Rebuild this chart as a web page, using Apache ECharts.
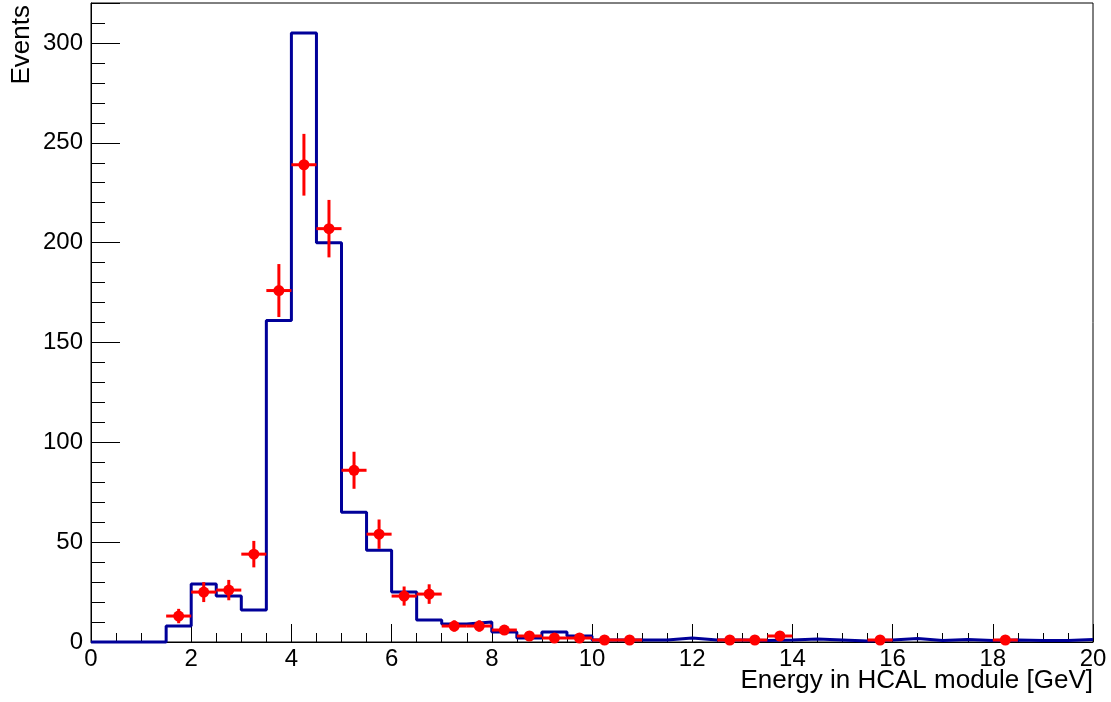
<!DOCTYPE html>
<html>
<head>
<meta charset="utf-8">
<title>Energy in HCAL module</title>
<script src="https://cdn.jsdelivr.net/npm/echarts@6/dist/echarts.min.js"></script>
<style>
  html, body { margin: 0; padding: 0; background: #fff; }
  #chart { width: 1111px; height: 702px; }
</style>
</head>
<body>
<div id="chart"></div>
<script>
// simulation histogram: 40 bins of 0.5 GeV, 0 .. 20 GeV
var binWidth = 0.5
var mcCounts = [
  0, 0, 0, 8, 29, 23, 16, 161, 305, 200,
  65, 46, 25, 11, 9, 10, 5, 2, 5, 3,
  1, 1, 1, 2, 1, 1, 0.7, 1, 1.5, 1,
  0.5, 1, 1.7, 0.8, 1.2, 0.7, 1, 0.8, 0.8, 1.2
]
// measured events (bin centres, counts), empty bins left out
var dataCenters = [1.75, 2.25, 2.75, 3.25, 3.75, 4.25, 4.75, 5.25, 5.75, 6.25, 6.75, 7.25,
  7.75, 8.25, 8.75, 9.25, 9.75, 10.25, 10.75, 12.75, 13.25, 13.75, 15.75, 18.25]
var dataCounts = [13, 25, 26, 44, 176, 239, 207, 86, 54, 23, 24, 8,
  8, 6, 3, 2, 2, 1, 1, 1, 1, 3, 1, 1]

var font = "'Liberation Sans', Arial, Helvetica, sans-serif"

// step line through bin edges, last edge closes the final bin
var mcLine = mcCounts.map(function (v, i) { return [i * binWidth, v] })
mcLine.push([mcCounts.length * binWidth, mcCounts[mcCounts.length - 1]])

var dataPoints = dataCenters.map(function (x, i) {
  return [x, dataCounts[i], Math.sqrt(dataCounts[i])]
})

var chart = echarts.init(document.getElementById('chart'))
chart.setOption({
  animation: false,
  backgroundColor: '#fff',
  grid: {
    left: 91,
    right: 18,
    top: 3,
    bottom: 60,
    show: true,
    borderColor: '#000',
    borderWidth: 1
  },
  xAxis: {
    type: 'value',
    min: 0,
    max: 20,
    interval: 2,
    axisLine: { lineStyle: { color: '#000', width: 1 } },
    axisTick: { inside: true, length: 18, lineStyle: { color: '#000' } },
    minorTick: { show: true, splitNumber: 4, length: 9, lineStyle: { color: '#000' } },
    axisLabel: { color: '#000', fontSize: 24, fontFamily: font, margin: 5 },
    splitLine: { show: false }
  },
  yAxis: [{
    type: 'value',
    position: 'left',
    min: 0,
    max: 320,
    interval: 50,
    axisLine: { show: true, lineStyle: { color: '#000', width: 1 } },
    axisTick: { inside: true, length: 29, lineStyle: { color: '#000' } },
    axisLabel: {
      color: '#000', fontSize: 24, fontFamily: font, margin: 8,
      formatter: function (v) { return v % 50 === 0 ? String(v) : '' }
    },
    splitLine: { show: false }
  }, {
    // minor ticks every 10 events
    type: 'value',
    position: 'left',
    min: 0,
    max: 320,
    interval: 10,
    axisLine: { show: false },
    axisTick: { inside: true, length: 14, lineStyle: { color: '#000' } },
    axisLabel: { show: false },
    splitLine: { show: false }
  }],
  graphic: [{
    type: 'text',
    x: 22,
    y: 5,
    rotation: Math.PI / 2,
    style: {
      text: 'Events', fill: '#000', fontSize: 26, fontFamily: font,
      align: 'right', verticalAlign: 'middle'
    }
  }, {
    type: 'text',
    x: 1093,
    y: 681,
    style: {
      text: 'Energy in HCAL module [GeV]', fill: '#000', fontSize: 26, fontFamily: font,
      align: 'right', verticalAlign: 'middle'
    }
  }],
  series: [{
    name: 'MC',
    type: 'line',
    step: 'end',
    symbol: 'none',
    clip: false,
    data: mcLine,
    lineStyle: { color: '#000099', width: 3 },
    z: 3
  }, {
    name: 'Data',
    type: 'custom',
    data: dataPoints,
    z: 4,
    renderItem: function (params, api) {
      var x = api.value(0), y = api.value(1), err = api.value(2)
      var l = api.coord([x - binWidth / 2, y])
      var r = api.coord([x + binWidth / 2, y])
      var t = api.coord([x, y + err])
      var b = api.coord([x, Math.max(y - err, 0)])
      var c = api.coord([x, y])
      var st = { stroke: '#ff0000', lineWidth: 3 }
      return {
        type: 'group',
        children: [
          { type: 'line', shape: { x1: l[0], y1: l[1], x2: r[0], y2: r[1] }, style: st },
          { type: 'line', shape: { x1: t[0], y1: t[1], x2: b[0], y2: b[1] }, style: st },
          { type: 'circle', shape: { cx: c[0], cy: c[1], r: 5.5 }, style: { fill: '#ff0000' } }
        ]
      }
    }
  }]
})
</script>
</body>
</html>
